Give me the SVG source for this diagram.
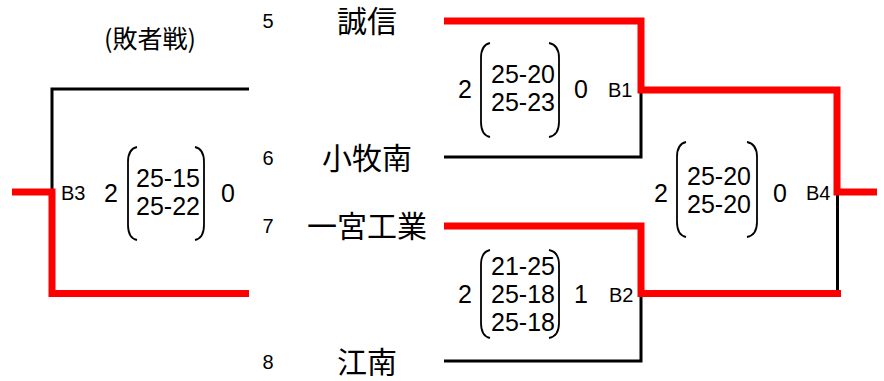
<svg xmlns="http://www.w3.org/2000/svg" width="884" height="381" viewBox="0 0 884 381">
<style>
.lb{fill:none;stroke:#000;stroke-width:3;stroke-linejoin:miter;stroke-linecap:butt}
.lr{fill:none;stroke:#f00;stroke-width:7;stroke-linejoin:miter;stroke-linecap:butt}
.par{fill:none;stroke:#000;stroke-width:1.8}
.seed{font-family:"Liberation Sans",Arial,sans-serif;font-size:20px;fill:#000;text-anchor:middle}
.team{font-family:"Noto Sans CJK JP","Noto Sans CJK SC",sans-serif;font-size:30px;fill:#000;text-anchor:middle}
.sc{font-family:"Liberation Sans",Arial,sans-serif;font-size:25px;fill:#000;text-anchor:middle}
.bl{font-family:"Liberation Sans",Arial,sans-serif;font-size:20px;fill:#000}
.hd{font-family:"Noto Sans CJK JP","Noto Sans CJK SC",sans-serif;font-size:25px;fill:#000;text-anchor:middle}
</style>
<rect width="884" height="381" fill="#fff"/>
<g id="connectors">
  <path class="lb" d="M249 89 H52 V190"/>
  <path class="lb" d="M444 157 H641 V93"/>
  <path class="lb" d="M444 361 H641 V297"/>
  <path class="lb" d="M837.5 195 V290"/>
  <path class="lr" d="M12 192 H52 V293.5 H249"/>
  <path class="lr" d="M444 21 H641 V90 H837 V192 H877"/>
  <path class="lr" d="M444 226 H641 V293.5 H841"/>
</g>
<g id="heading"><text class="hd" x="150" y="48">(敗者戦)</text></g>
<g id="team-5"><text class="seed" x="268" y="28">5</text><text class="team" x="367" y="32">誠信</text></g>
<g id="team-6"><text class="seed" x="268" y="165">6</text><text class="team" x="367" y="169">小牧南</text></g>
<g id="team-7"><text class="seed" x="268" y="233">7</text><text class="team" x="367" y="237">一宮工業</text></g>
<g id="team-8"><text class="seed" x="268" y="369">8</text><text class="team" x="367" y="373">江南</text></g>
<g id="match-B1">
  <text class="sc" x="465" y="98">2</text>
  <path class="par" d="M490 43 Q481 45 481 58 V122 Q481 135 490 137"/>
  <text class="sc" x="523" y="83">25-20</text>
  <text class="sc" x="523" y="111">25-23</text>
  <path class="par" d="M549 43 Q559 45 559 58 V122 Q559 135 549 137"/>
  <text class="sc" x="581" y="98">0</text>
  <text class="bl" x="608" y="97">B1</text>
</g>
<g id="match-B2">
  <text class="sc" x="465" y="303">2</text>
  <path class="par" d="M490 250 Q481 252 481 265 V323 Q481 336 490 338"/>
  <text class="sc" x="523" y="275">21-25</text>
  <text class="sc" x="523" y="303">25-18</text>
  <text class="sc" x="523" y="331">25-18</text>
  <path class="par" d="M549 250 Q559 252 559 265 V323 Q559 336 549 338"/>
  <text class="sc" x="581" y="303">1</text>
  <text class="bl" x="609" y="302">B2</text>
</g>
<g id="match-B3">
  <text class="bl" x="61" y="200">B3</text>
  <text class="sc" x="111" y="202">2</text>
  <path class="par" d="M137 147 Q128 149 128 162 V225 Q128 238 137 240"/>
  <text class="sc" x="168" y="187">25-15</text>
  <text class="sc" x="168" y="215">25-22</text>
  <path class="par" d="M195 147 Q204 149 204 162 V225 Q204 238 195 240"/>
  <text class="sc" x="228" y="202">0</text>
</g>
<g id="match-B4">
  <text class="sc" x="661" y="202">2</text>
  <path class="par" d="M686 142 Q677 144 677 157 V222 Q677 235 686 237"/>
  <text class="sc" x="719" y="185">25-20</text>
  <text class="sc" x="719" y="213">25-20</text>
  <path class="par" d="M747 142 Q757 144 757 157 V222 Q757 235 747 237"/>
  <text class="sc" x="780" y="202">0</text>
  <text class="bl" x="806" y="200">B4</text>
</g>
</svg>
